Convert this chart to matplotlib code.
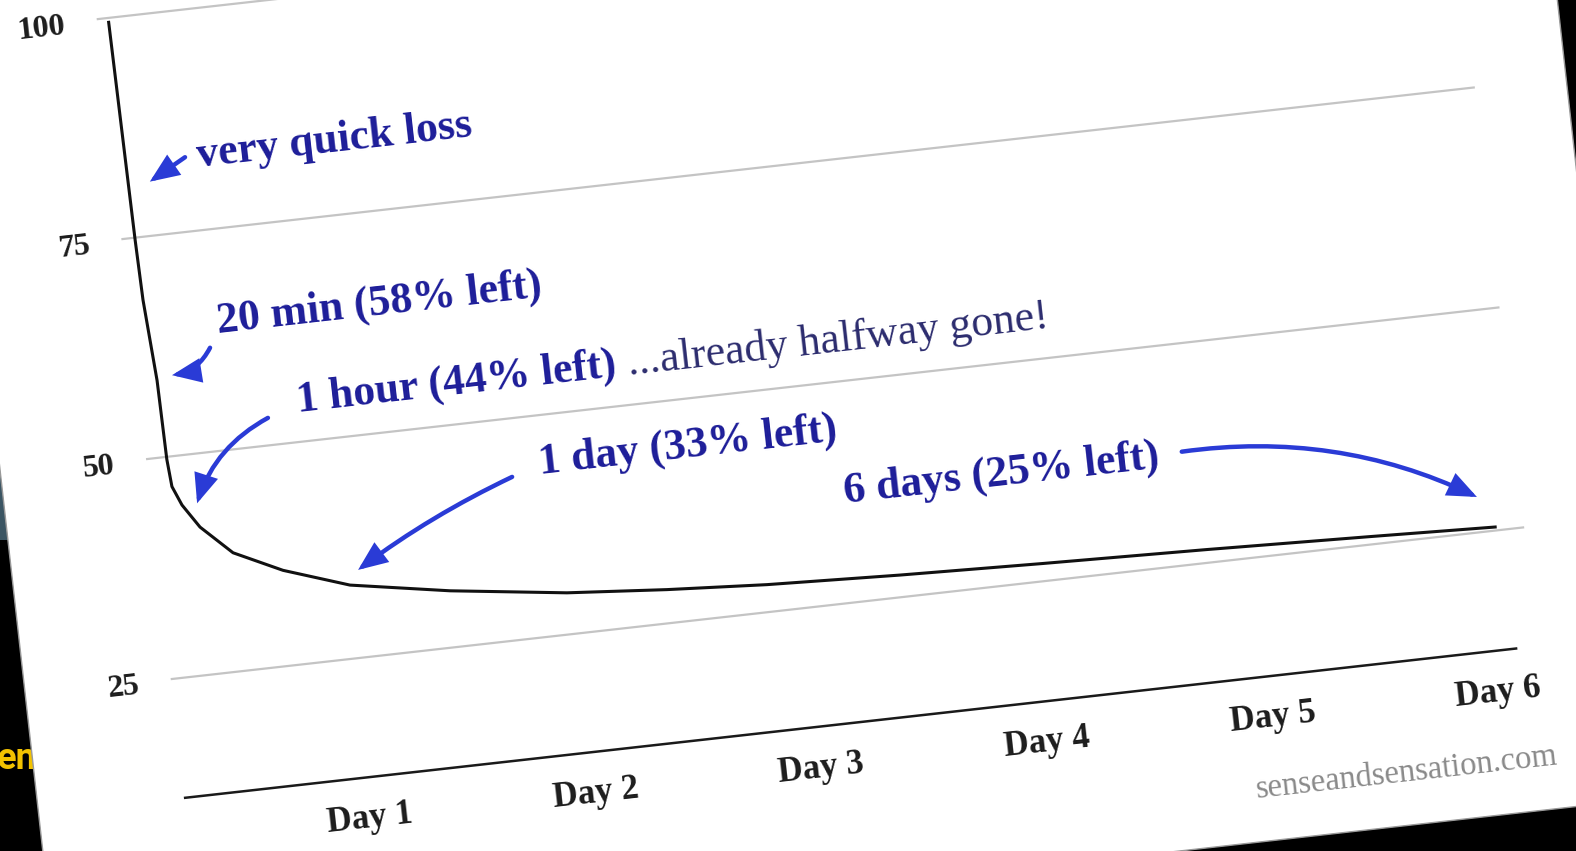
import matplotlib.pyplot as plt
from matplotlib.patches import FancyArrowPatch, Rectangle
from matplotlib.transforms import Affine2D

# forgetting curve (x in days, y in % retained)
days = [0.246, 0.255, 0.260, 0.282, 0.286, 0.295, 0.330, 0.398, 0.530, 0.740,
        1.026, 1.461, 1.972, 2.412, 2.852, 3.439, 4.070, 4.795, 5.515, 6.068]
retention = [99.5, 74.7, 67.9, 58.7, 49.7, 46.6, 44.4, 41.7, 38.4, 35.8,
             33.3, 31.4, 29.7, 28.8, 28.1, 27.5, 27.0, 26.5, 25.9, 25.4]

grid_values = [25, 50, 75, 100]
y_labels = ["25", "50", "75", "100"]
day_ticks = [1, 2, 3, 4, 5, 6]
day_labels = ["Day 1", "Day 2", "Day 3", "Day 4", "Day 5", "Day 6"]

# annotations: text, baseline position, arrow tail, arrow tip, arrow bend
notes = ["very quick loss", "20 min (58% left)", "1 hour (44% left)",
         "1 day (33% left)", "6 days (25% left)"]
note_pos = [(0.566, 82.1), (0.572, 63.3), (0.884, 53.4), (1.912, 43.4), (3.233, 36.3)]
arrow_tail = [(0.514, 83.4), (0.53, 61.7), (0.749, 53.1), (1.789, 43.4), (4.733, 37.8)]
arrow_tip = [(0.348, 81.1), (0.35, 59.1), (0.397, 44.4), (1.069, 34.9), (6.003, 29.0)]
arrow_rad = [0.0, -0.25, 0.2, 0.05, -0.15]
aside = "...already halfway gone!"
aside_pos = (2.35, 53.4)

navy = "#1d1d99"
arrow_blue = "#2a3bd6"
serif = "Liberation Serif"
tilt = 6.4

fig = plt.figure(figsize=(15.76, 8.51), dpi=100)
fig.patch.set_facecolor("black")

ax = fig.add_axes([0, 0, 1, 1])
ax.set_xlim(-102 / 227, (1576 - 102) / 227)
ax.set_ylim(-20.9 / 8.854, (851 - 20.9) / 8.854)
ax.axis("off")

# the photo is tilted: rotate everything drawn in the axes
rot = Affine2D().rotate_deg_around(788, 425.5, tilt)
tr = ax.transData + rot

# paper and the bits of background around it
fig.add_artist(Rectangle((0, 311), 12, 75, transform=None,
                         facecolor="#3b5563", zorder=-3))
fig.text(-0.002, 0.096, "en", color="#f2c200", fontsize=26,
         family="Roboto", fontweight="bold", zorder=-2.5)
fig.add_artist(Rectangle((0, -41), 1600, 1100, transform=rot,
                         facecolor="white", edgecolor="#9a9a9a", lw=1, zorder=-1))

for v in grid_values:
    ax.plot([0.20, 6.19], [v, v], color="#c4c4c4", lw=1.6,
            transform=tr, clip_on=False, zorder=1)
ax.plot([0.20, 6.10], [11.5, 11.5], color="#1a1a1a", lw=1.8,
        transform=tr, clip_on=False, zorder=1)

ax.plot(days, retention, color="#111111", lw=2.2,
        transform=tr, clip_on=False, zorder=3)

for v, s in zip(grid_values, y_labels):
    ax.text(0.055, v - 0.4, s, transform=tr, rotation=tilt,
            rotation_mode="anchor", ha="right", va="center",
            family=serif, fontsize=23, fontweight="bold", color="#1c1c1c")

for d, s in zip(day_ticks, day_labels):
    ax.text(d, 6.8, s, transform=tr, rotation=tilt, rotation_mode="anchor",
            ha="center", va="center", family=serif, fontsize=25,
            fontweight="bold", color="#1c1c1c")

ax.text(5.56, -1.13, "senseandsensation.com", transform=tr, rotation=tilt,
        rotation_mode="anchor", ha="center", va="center", family=serif,
        fontsize=23.5, color="#8a8a8a")

for s, (x, y) in zip(notes, note_pos):
    ax.text(x, y, s, transform=tr, rotation=tilt, rotation_mode="anchor",
            ha="left", va="baseline", family=serif, fontsize=31.5,
            fontweight="bold", color=navy, zorder=4)

ax.text(aside_pos[0], aside_pos[1], aside, transform=tr, rotation=tilt,
        rotation_mode="anchor", ha="left", va="baseline", family=serif,
        fontsize=31.5, color="#2c2c6e", zorder=4)

for a, b, r in zip(arrow_tail, arrow_tip, arrow_rad):
    ax.add_patch(FancyArrowPatch(
        a, b, transform=tr, connectionstyle=f"arc3,rad={r}",
        arrowstyle="-|>,head_length=1.2,head_width=0.5", mutation_scale=13,
        lw=3.2, color=arrow_blue, shrinkA=0, shrinkB=0, clip_on=False,
        joinstyle="miter", zorder=4))

fig.savefig("out.png", dpi=100, facecolor=fig.get_facecolor())
